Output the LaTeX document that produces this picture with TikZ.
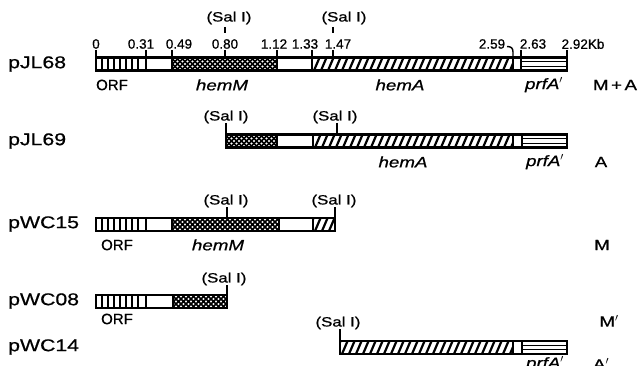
\documentclass[tikz,border=0pt]{standalone}
\usepackage{fontspec}
\setmainfont[FakeBold=0.7]{Liberation Sans}
\newfontfamily\widefont[FakeStretch=1.25,FakeBold=0.7]{Liberation Sans}

% segment fillings for a bar between x=#1..#2 and y=#3 (top)..#4 (bottom)
\newcommand\hatchseg[4]{%
  \begin{scope}
    \clip (#1,#3) rectangle (#2,#4);
    \pgfmathsetmacro\ha{#1-12}\pgfmathsetmacro\hb{#1-5}
    \foreach \k in {\ha,\hb,...,#2}{\draw[line width=2.2pt] (\k,#4) -- ++(6,-14);}
  \end{scope}}
\newcommand\crossseg[4]{%
  \begin{scope}
    \clip (#1,#3) rectangle (#2,#4);
    \pgfmathsetmacro\ca{#1-16}\pgfmathsetmacro\cb{#1-11}
    \foreach \k in {\ca,\cb,...,#2}{\draw[line width=1.6pt] (\k,#4) -- ++(16,-16) (\k,#3) -- ++(16,16);}
  \end{scope}}
\newcommand\stripeseg[4]{%
  \pgfmathsetmacro\sa{#1+6}\pgfmathsetmacro\sb{#1+12}\pgfmathsetmacro\se{#2-3}
  \foreach \k in {\sa,\sb,...,\se}{\draw[line width=2pt] (\k,#3) -- (\k,#4);}}
\newcommand\prfseg[4]{%
  \pgfmathsetmacro\pa{#3+(#4-#3)/3}\pgfmathsetmacro\pb{#3+2*(#4-#3)/3}
  \draw[line width=1.3pt] (#1,\pa) -- (#2,\pa) (#1,\pb) -- (#2,\pb);}

\tikzset{
  lbl/.style={font=\widefont\fontsize{17}{17}\selectfont, anchor=west, inner sep=0pt},
  num/.style={font=\fontsize{13.5}{14}\selectfont, inner sep=0pt},
  sal/.style={font=\widefont\fontsize{13.5}{13.5}\selectfont, inner sep=0pt},
  gene/.style={font=\widefont\itshape\fontsize{15}{15}\selectfont, inner sep=0pt},
  tag/.style={font=\widefont\fontsize{15}{15}\selectfont, inner sep=0pt},
  orf/.style={font=\fontsize{15}{15}\selectfont, inner sep=0pt},
  barline/.style={line width=2.2pt},
  divline/.style={line width=1.6pt},
  tickline/.style={line width=1.4pt},
}

\begin{document}
\begin{tikzpicture}[x=1pt,y=-1pt]
\useasboundingbox (0,0) rectangle (639,366);
\fill[white] (0,0) rectangle (639,366);

% ---------- pJL68 ----------
\node[lbl] (n1) at (8,64) {pJL68};
\stripeseg{96}{146}{57.5}{70.5}
\crossseg{172}{277}{57.5}{70.5}
\hatchseg{312}{513}{57.5}{70.5}
\prfseg{521}{567}{57.5}{70.5}
\foreach \x in {146,172,277,312,513,521}{\draw[divline] (\x,57.5) -- (\x,70.5);}
\draw[barline] (96,57.5) rectangle (567,70.5);
\foreach \x/\t in {96/0,141/0.31,179/0.49,225/0.80,274/1.12,305/1.33,338/1.47,492/2.59,533/2.63,583/2.92Kb}
  {\node[num] at (\x,44) {\t};}
\foreach \x in {96,146,172,225,277,312,333,521,567}{\draw[tickline] (\x,50) -- (\x,57.5);}
\draw[tickline] (507,46.5) .. controls (511,46.5) and (513,48) .. (513,52) -- (513,57.5);
\node[sal] (s11) at (229,18) {(Sal I)};
\node[sal] (s12) at (344,18) {(Sal I)};
\draw[tickline] (225,27) -- (225,33);
\draw[tickline] (333,27) -- (333,33);
\node[orf] at (112,85) {ORF};
\node[gene] at (222,85) {hemM};
\node[gene] at (400,85) {hemA};
\node[gene] at (544,85) {prfA$'$};
\node[tag] at (615,85) {M\,+\,A};

% ---------- pJL69 ----------
\node[lbl] (n2) at (8,141) {pJL69};
\crossseg{226}{277}{134.5}{147.5}
\hatchseg{313}{513}{134.5}{147.5}
\prfseg{522}{567}{134.5}{147.5}
\foreach \x in {277,313,513,522}{\draw[divline] (\x,134.5) -- (\x,147.5);}
\draw[barline] (226,134.5) rectangle (567,147.5);
\node[sal] (s21) at (226,117) {(Sal I)};
\node[sal] (s22) at (335,117) {(Sal I)};
\draw[tickline] (226,123) -- (226,134.5);
\draw[tickline] (337,123) -- (337,134.5);
\node[gene] at (403,162) {hemA};
\node[gene] at (545,162) {prfA$'$};
\node[tag] at (601,162) {A};

% ---------- pWC15 ----------
\node[lbl] (n3) at (8,224) {pWC15};
\stripeseg{96}{146}{218}{231}
\crossseg{172}{279}{218}{231}
\hatchseg{313}{335}{218}{231}
\foreach \x in {146,172,279,313}{\draw[divline] (\x,218) -- (\x,231);}
\draw[barline] (96,218) rectangle (335,231);
\node[sal] (s31) at (226,201) {(Sal I)};
\node[sal] (s32) at (334,201) {(Sal I)};
\draw[tickline] (227,207) -- (227,218);
\draw[tickline] (335,207) -- (335,218);
\node[orf] at (117,245) {ORF};
\node[gene] at (218,245) {hemM};
\node[tag] at (602,245) {M};

% ---------- pWC08 ----------
\node[lbl] (n4) at (8,301) {pWC08};
\stripeseg{96}{146}{295}{308}
\crossseg{173}{227}{295}{308}
\foreach \x in {146,173}{\draw[divline] (\x,295) -- (\x,308);}
\draw[barline] (96,295) rectangle (227,308);
\node[sal] (s41) at (224,279) {(Sal I)};
\draw[tickline] (227,285) -- (227,295);
\node[orf] at (117,319) {ORF};
\node[tag] at (609,321) {M$'$};

% ---------- pWC14 ----------
\node[lbl] (n5) at (8,347) {pWC14};
\hatchseg{340}{513}{341}{354}
\prfseg{522}{567}{341}{354}
\foreach \x in {513,522}{\draw[divline] (\x,341) -- (\x,354);}
\draw[barline] (340,341) rectangle (567,354);
\node[sal] (s51) at (338,323) {(Sal I)};
\draw[tickline] (340,329) -- (340,341);
\node[gene] at (545,364) {prfA$'$};
\node[tag] at (601,364) {A$'$};
\end{tikzpicture}
\end{document}
